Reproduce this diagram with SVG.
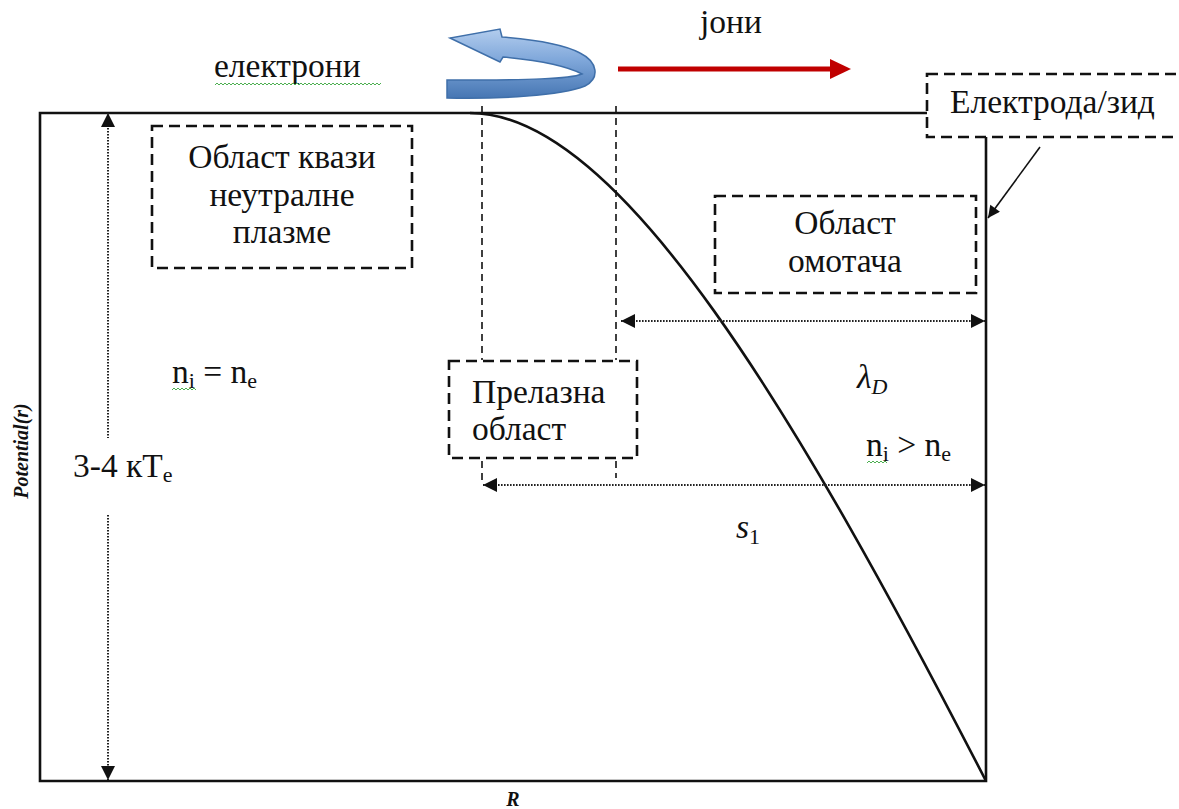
<svg xmlns="http://www.w3.org/2000/svg" width="1179" height="809" viewBox="0 0 1179 809">
<style>
.t{font-family:'Liberation Serif','Times New Roman',serif;font-size:33.5px;fill:#111}
.sub{font-size:22px}
.it{font-style:italic}
.ax{font-family:'Liberation Serif','Times New Roman',serif;font-weight:bold;font-style:italic;font-size:20px;fill:#111}
.box{fill:none;stroke:#111;stroke-width:2.6;stroke-dasharray:11 6}
.vd{fill:none;stroke:#111;stroke-width:1.6;stroke-dasharray:7 5}
.dot{fill:none;stroke:#222;stroke-width:2;stroke-dasharray:1.6 1.4}
.frame{fill:none;stroke:#111;stroke-width:2.6}
.wave{fill:none;stroke:#4caf50;stroke-width:1}
</style>
<defs>
<marker id="ah" viewBox="0 0 10 10" refX="10" refY="5" markerWidth="16" markerHeight="14" markerUnits="userSpaceOnUse" orient="auto-start-reverse">
<path d="M0,0 L10,5 L0,10 Z" fill="#111"/>
</marker>
<marker id="ah2" viewBox="0 0 10 10" refX="10" refY="5" markerWidth="14" markerHeight="12" markerUnits="userSpaceOnUse" orient="auto">
<path d="M0,0 L10,5 L0,10 Z" fill="#111"/>
</marker>
<linearGradient id="blue" x1="0" y1="0" x2="0" y2="1">
<stop offset="0" stop-color="#b3cdee"/>
<stop offset="0.45" stop-color="#7fa7da"/>
<stop offset="1" stop-color="#4676b3"/>
</linearGradient>
</defs>

<g id="frame">
<path class="frame" d="M927,113 L40,113 L40,781 L986,781 L986,137"/>
</g>

<g id="curve">
<path d="M470,113 C620,113 800,420 986,781" fill="none" stroke="#111" stroke-width="2.6"/>
</g>

<g id="connectors">
<line class="vd" x1="482" y1="106" x2="482" y2="360"/>
<line class="vd" x1="616" y1="106" x2="616" y2="360"/>
<line class="vd" x1="482" y1="461" x2="482" y2="480"/>
<line class="vd" x1="616" y1="461" x2="616" y2="478"/>
<line class="dot" x1="621" y1="321" x2="985" y2="321" marker-start="url(#ah)" marker-end="url(#ah)"/>
<line class="dot" x1="483" y1="485" x2="985" y2="485" marker-start="url(#ah)" marker-end="url(#ah)"/>
<line class="dot" x1="108" y1="113" x2="108" y2="438" marker-start="url(#ah)"/>
<line class="dot" x1="108" y1="515" x2="108" y2="780" marker-end="url(#ah)"/>
<line x1="1040" y1="147" x2="988" y2="218" stroke="#111" stroke-width="1.6" marker-end="url(#ah2)"/>
<path d="M618,69 L832,69" stroke="#c00000" stroke-width="5" fill="none"/>
<path d="M830,59 L851,69 L830,79 Z" fill="#c00000"/>
</g>

<g id="electron-arrow">
<path d="M447,80 L447,98 C500,99 560,96 585,86 C600,78 598,62 580,53 C565,45 540,40 502,37 L500,29 L450,38 L500,62 L503,57 C535,60 565,65 582,74 C570,79 530,80 447,80 Z" fill="url(#blue)" stroke="#3f6fa9" stroke-width="1.5"/>
</g>

<g id="labels" font-family="Liberation Serif, serif">
<text class="t" x="700" y="33">јони</text>
<text class="t" x="214" y="77">електрони</text>
<path class="wave" d="M215,85 l2,-2 l2,2 l2,-2 l2,2 l2,-2 l2,2 l2,-2 l2,2 l2,-2 l2,2 l2,-2 l2,2 l2,-2 l2,2 l2,-2 l2,2 l2,-2 l2,2 l2,-2 l2,2 l2,-2 l2,2 l2,-2 l2,2 l2,-2 l2,2 l2,-2 l2,2 l2,-2 l2,2 l2,-2 l2,2 l2,-2 l2,2 l2,-2 l2,2 l2,-2 l2,2 l2,-2 l2,2 l2,-2 l2,2 l2,-2 l2,2 l2,-2 l2,2 l2,-2 l2,2 l2,-2 l2,2 l2,-2 l2,2 l2,-2 l2,2 l2,-2 l2,2 l2,-2 l2,2 l2,-2 l2,2 l2,-2 l2,2 l2,-2 l2,2 l2,-2 l2,2 l2,-2 l2,2 l2,-2 l2,2 l2,-2 l2,2 l2,-2 l2,2 l2,-2 l2,2 l2,-2 l2,2 l2,-2 l2,2 l2,-2 l2,2 l2,-2"/>
<text class="t" x="172" y="383">n<tspan class="sub" dy="5">i</tspan><tspan dy="-5"> = n</tspan><tspan class="sub" dy="5">e</tspan></text>
<path class="wave" d="M172,390 l2,-2 l2,2 l2,-2 l2,2 l2,-2 l2,2 l2,-2 l2,2 l2,-2 l2,2 l2,-2 l2,2"/>
<text class="t" x="73" y="477">3-4 кT<tspan class="sub" dy="5">e</tspan></text>
<text class="t" x="866" y="456">n<tspan class="sub" dy="5">i</tspan><tspan dy="-5"> &gt; n</tspan><tspan class="sub" dy="5">e</tspan></text>
<path class="wave" d="M867,463 l2,-2 l2,2 l2,-2 l2,2 l2,-2 l2,2 l2,-2 l2,2 l2,-2 l2,2"/>
<text class="t it" x="857" y="388">λ<tspan class="sub" dy="6">D</tspan></text>
<text class="t it" x="736" y="538">s<tspan class="sub" dy="6" font-style="normal">1</tspan></text>
<text class="ax" transform="translate(28,451) rotate(-90)" text-anchor="middle">Potential(r)</text>
<text class="ax" x="513" y="806" text-anchor="middle">R</text>
</g>

<g id="node-quasi-neutral" font-family="Liberation Serif, serif">
<rect class="box" x="152" y="126" width="260" height="142"/>
<text class="t" x="282" y="168" text-anchor="middle">Област квази</text>
<text class="t" x="282" y="206" text-anchor="middle">неутралне</text>
<text class="t" x="282" y="243" text-anchor="middle">плазме</text>
</g>

<g id="node-sheath" font-family="Liberation Serif, serif">
<rect class="box" x="715" y="196" width="261" height="97"/>
<text class="t" x="845" y="234" text-anchor="middle">Област</text>
<text class="t" x="845" y="272" text-anchor="middle">омотача</text>
</g>

<g id="node-transition" font-family="Liberation Serif, serif">
<rect class="box" x="449" y="361" width="188" height="97"/>
<text class="t" x="472" y="403">Прелазна</text>
<text class="t" x="472" y="440">област</text>
</g>

<g id="node-electrode" font-family="Liberation Serif, serif">
<rect class="box" x="927" y="74" width="270" height="63"/>
<text class="t" x="950" y="113">Електрода/зид</text>
</g>
</svg>
